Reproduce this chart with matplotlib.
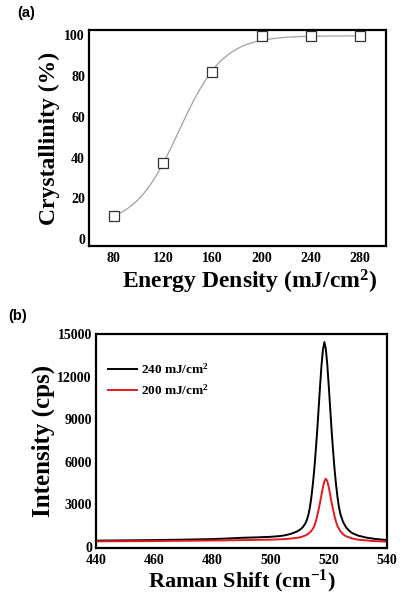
import matplotlib
matplotlib.use("Agg")
import matplotlib.pyplot as plt

plt.rcParams["font.family"] = ["Liberation Serif", "DejaVu Serif"]
plt.rcParams["font.weight"] = "bold"
plt.rcParams["axes.labelweight"] = "bold"
plt.rcParams["mathtext.default"] = "regular"

## (a) crystallinity vs energy density
energy = [80, 120, 160, 200, 240, 280]
crystallinity = [11.5, 37.5, 82, 99.5, 99.5, 99.5]

# fitted sigmoid curve
fit_x = [80, 85, 90, 95, 100, 105, 110, 115, 120, 125, 130, 135, 140, 145, 150,
         155, 160, 165, 170, 175, 180, 185, 190, 195, 200, 210, 220, 230, 240, 260, 280]
fit_y = [11.4, 12.7, 14.5, 16.7, 19.5, 22.9, 26.9, 31.7, 37.1, 43.0, 49.3, 55.8, 62.1, 68.2, 73.6,
         78.5, 82.7, 86.3, 89.1, 91.5, 93.3, 94.8, 95.9, 96.8, 97.5, 98.4, 99.0, 99.3, 99.5, 99.6, 99.7]

a_xticks = [80, 120, 160, 200, 240, 280]
a_yticks = [0, 20, 40, 60, 80, 100]

## (b) Raman spectra
shift_240 = [440, 450, 460, 470, 480, 485, 490, 495, 500, 503, 505, 507, 509, 510, 511, 512,
             512.5, 513, 513.5, 514, 514.5, 515, 515.5, 516, 516.5, 517, 517.5, 518, 518.5,
             519, 519.5, 520, 520.5, 521, 521.5, 522, 522.5, 523, 523.5, 524, 525, 526, 527,
             528, 530, 533, 536, 540]
int_240 = [420, 440, 460, 490, 530, 570, 620, 650, 690, 740, 800, 900, 1060, 1180, 1350, 1650,
           1900, 2250, 2750, 3450, 4350, 5400, 6700, 8100, 9700, 11300, 12800, 13900, 14450,
           13950, 12850, 11350, 9750, 8150, 6750, 5450, 4400, 3500, 2800, 2300, 1700, 1350, 1120,
           960, 780, 630, 540, 460]

shift_200 = [440, 450, 460, 470, 480, 490, 500, 505, 508, 510, 511, 512, 513, 514, 514.5, 515,
             515.5, 516, 516.5, 517, 517.5, 518, 518.5, 519, 519.5, 520, 520.5, 521, 521.5,
             522, 522.5, 523, 524, 525, 526, 528, 530, 535, 540]
int_200 = [370, 380, 390, 410, 430, 455, 490, 530, 590, 650, 710, 790, 910, 1100, 1250, 1450,
           1750, 2150, 2600, 3100, 3650, 4200, 4620, 4800, 4620, 4200, 3650, 3100, 2600,
           2150, 1750, 1450, 1080, 860, 720, 580, 490, 395, 350]

b_xticks = [440, 460, 480, 500, 520, 540]
b_yticks = [0, 3000, 6000, 9000, 12000, 15000]

fig = plt.figure(figsize=(4.09, 6.02), dpi=100)

## panel (a)
ax1 = fig.add_axes([0.218, 0.591, 0.726, 0.359])
ax1.plot(fit_x, fit_y, color="#a0a0a0", lw=0.9, zorder=1)
ax1.plot(energy, crystallinity, ls="none", marker="s", ms=6.5, mfc="white",
         mec="#333333", mew=0.9, zorder=2)
ax1.set_xlim(60, 301)
ax1.set_ylim(-3.5, 102.5)
ax1.set_xticks(a_xticks)
ax1.set_yticks(a_yticks)
ax1.tick_params(length=0, labelsize=10, pad=4)
ax1.tick_params(axis="y", pad=3)
ax1.set_xlabel("Energy Density (mJ/cm$^2$)", fontsize=17)
ax1.xaxis.set_label_coords(0.54, -0.1)
ax1.xaxis.label.set_va("top")
ax1.set_ylabel("Crystallinity (%)", fontsize=17, labelpad=3)
for s in ax1.spines.values():
    s.set_linewidth(1.6)
fig.text(0.042, 0.978, "(a)", family="Liberation Sans", weight="bold", fontsize=10.5,
         va="center")

## panel (b)
ax2 = fig.add_axes([0.235, 0.0897, 0.711, 0.355])
ax2.plot(shift_240, int_240, color="black", lw=1.4, label="240 mJ/cm$^2$")
ax2.plot(shift_200, int_200, color="#e41a1c", lw=1.4, label="200 mJ/cm$^2$")
ax2.set_xlim(440, 540)
ax2.set_ylim(-100, 15000)
ax2.set_xticks(b_xticks)
ax2.set_yticks(b_yticks)
ax2.tick_params(length=0, labelsize=10, pad=4)
ax2.tick_params(axis="y", pad=3)
ax2.set_xlabel("Raman Shift (cm$^{-1}$)", fontsize=16, labelpad=1)
ax2.set_ylabel("Intensity (cps)", fontsize=18, labelpad=2)
for s in ax2.spines.values():
    s.set_linewidth(1.6)
ax2.legend(loc="upper left", bbox_to_anchor=(0.0, 0.925), frameon=False,
           fontsize=9.5, handlelength=2.2, handletextpad=0.3, labelspacing=0.45)
fig.text(0.02, 0.475, "(b)", family="Liberation Sans", weight="bold", fontsize=10.5,
         va="center")

fig.savefig("out.png", dpi=100)
